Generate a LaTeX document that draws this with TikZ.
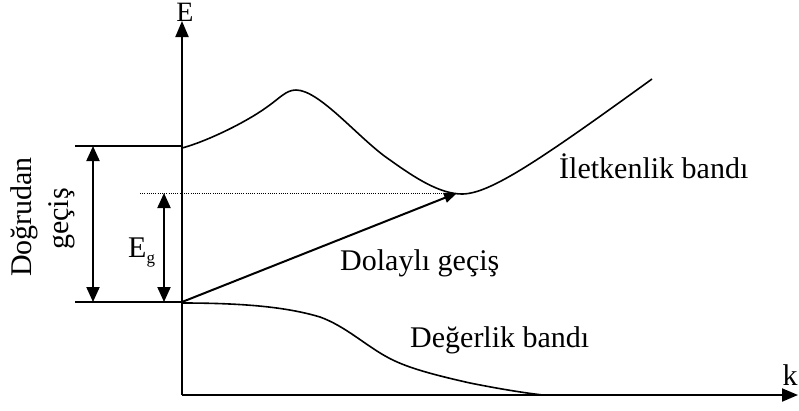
\documentclass[tikz,border=0pt]{standalone}
\usepackage{fontspec}
\setmainfont{Liberation Serif}
\usetikzlibrary{arrows.meta}
\begin{document}
\begin{tikzpicture}[x=1pt,y=-1pt,
  lbl/.style={font=\fontsize{30}{34}\selectfont, inner sep=0pt},
  axisline/.style={line width=2pt, -{Triangle[length=16pt,width=13pt]}},
  dblarrow/.style={line width=2pt, {Triangle[length=15pt,width=13pt]}-{Triangle[length=15pt,width=13pt]}},
  band/.style={line width=1.6pt, line join=round},
  level/.style={line width=1.6pt},
  dotline/.style={line width=1pt, dash pattern=on 1pt off 1.2pt}]
\useasboundingbox (0,0) rectangle (799,410);
% coordinates
\coordinate (O) at (182,395);
\coordinate (Ytop) at (182,21);
\coordinate (Xend) at (798,395);
\coordinate (Cl) at (75,146);
\coordinate (Cr) at (182,146);
\coordinate (Vl) at (75,302);
\coordinate (Vr) at (182,302);
\coordinate (Dl) at (140,193);
\coordinate (Min) at (457,193);
\coordinate (A1t) at (93,146);
\coordinate (A1b) at (93,302);
\coordinate (A2t) at (164,193);
\coordinate (A2b) at (164,302);
% axes
\draw[axisline] (O) -- (Ytop);
\draw[axisline] (O) -- (Xend);
\node[lbl, anchor=base, font=\fontsize{28}{32}\selectfont] (E) at (185,21) {E};
\node[lbl, anchor=base] (k) at (790,385) {k};
% levels
\draw[level] (Cl) -- (Cr);
\draw[level] (Vl) -- (Vr);
\draw[dotline] (Dl) -- (Min);
% double arrows
\draw[dblarrow] (A1t) -- (A1b);
\draw[dblarrow] (A2t) -- (A2b);
% conduction band
\draw[band] (182,148) .. controls (205,142) and (245,123) .. (267,107)
  .. controls (280,98) and (286,90) .. (296,90)
  .. controls (320,90) and (360,140) .. (390,160)
  .. controls (415,178) and (440,194) .. (462,194)
  .. controls (490,194) and (540,160) .. (652,79);
% valence band
\draw[band] (182,303) .. controls (250,303) and (290,308) .. (320,317)
  .. controls (345,326) and (365,345) .. (387,357)
  .. controls (405,367) and (430,374) .. (470,383)
  .. controls (500,389) and (525,393) .. (543,395);
% indirect transition
\draw[line width=2pt, -{Triangle[length=13pt,width=10pt]}] (Vr) -- (Min);
% labels
\node[lbl, anchor=base west] (Ilet) at (559,178) {İletkenlik bandı};
\node[lbl, anchor=base west] (Dol) at (340,270) {Dolaylı geçiş};
\node[lbl, anchor=base west] (Deg) at (410,347) {Değerlik bandı};
\node[lbl, anchor=base west] (Eg) at (128,257) {E\raisebox{-0.22em}{\fontsize{17}{17}\selectfont g}};
\node[lbl, rotate=90, anchor=base] (Dog) at (31,217) {Doğrudan};
\node[lbl, rotate=90, anchor=base] (gec) at (68,219) {geçiş};
\end{tikzpicture}
\end{document}
